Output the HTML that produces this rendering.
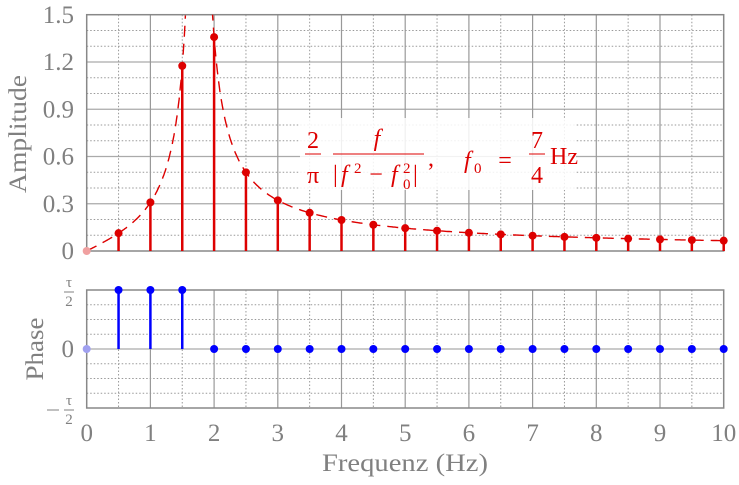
<!DOCTYPE html><html><head><meta charset="utf-8"><style>body{margin:0;background:#fff}svg{display:block}text{font-family:"Liberation Serif",serif;fill:#808080;font-size:16px}.r{fill:#d00}</style></head><body>
<svg id="s" width="739" height="485" xmlns="http://www.w3.org/2000/svg">
<defs><clipPath id="c"><rect x="86.7" y="14.7" width="637" height="236.3"/></clipPath></defs>
<g id="grid"></g>
<g id="curve" clip-path="url(#c)"></g>
<rect x="300" y="118" width="276" height="72" fill="#fff" opacity="0.85"/>
<g id="formula"></g>
<g id="stems"></g>
<g id="labels"></g>
</svg>
<script>
const NS="http://www.w3.org/2000/svg";
function el(p,t,a,txt){const e=document.createElementNS(NS,t);for(const k in a)e.setAttribute(k,a[k]);if(txt!=null)e.textContent=txt;(typeof p=="string"?document.getElementById(p):p).appendChild(e);return e;}
function T(p,x,y,s,size,anchor,cls,rot,ital,len){const k=size/16;const g=el(p,"g",{transform:`translate(${x},${y})`+(rot?` rotate(${rot})`:"")+` scale(${k})`});const a={x:0,y:0,"text-anchor":anchor||"start","font-size":16};if(cls)a["class"]=cls;if(ital)a["font-style"]="italic";if(len){a.textLength=len/k;a.lengthAdjust="spacingAndGlyphs";}el(g,"text",a,s);return g;}
const X=f=>86.7+63.7*f, YA=a=>251-157.5*a, YP=p=>349-59*p;
for(let i=1;i<15;i++){if(i%3)el("grid","line",{x1:86.7,x2:723.7,y1:YA(i*0.1),y2:YA(i*0.1),stroke:"#999","stroke-dasharray":"1.5,2","stroke-width":1});}
for(let i=1;i<5;i++)el("grid","line",{x1:86.7,x2:723.7,y1:YA(i*0.3),y2:YA(i*0.3),stroke:"#aaa","stroke-width":1.2});
for(let i=0;i<20;i++){const f=i*0.5;if(i%2)el("grid","line",{x1:X(f),x2:X(f),y1:14.7,y2:251,stroke:"#999","stroke-dasharray":"1.5,2"});else if(i)el("grid","line",{x1:X(f),x2:X(f),y1:14.7,y2:251,stroke:"#999","stroke-width":1.2});}
el("grid","rect",{x:86.7,y:14.7,width:637,height:236.3,fill:"none",stroke:"#888","stroke-width":1.5});
[-0.75,-0.5,-0.25,0.25,0.5,0.75].forEach(p=>el("grid","line",{x1:86.7,x2:723.7,y1:YP(p),y2:YP(p),stroke:"#999","stroke-dasharray":"1.5,2"}));
el("grid","line",{x1:86.7,x2:723.7,y1:349,y2:349,stroke:"#aaa","stroke-width":1.2});
for(let i=1;i<20;i++){const f=i*0.5;if(i%2)el("grid","line",{x1:X(f),x2:X(f),y1:290,y2:408,stroke:"#999","stroke-dasharray":"1.5,2"});else el("grid","line",{x1:X(f),x2:X(f),y1:290,y2:408,stroke:"#999","stroke-width":1.2});}
el("grid","rect",{x:86.7,y:290,width:637,height:118,fill:"none",stroke:"#888","stroke-width":1.5});
const A=f=>2/Math.PI*f/Math.abs(f*f-3.0625);
let d="";for(let f=0;f<=1.56;f+=0.01)d+=(d?"L":"M")+X(f).toFixed(1)+","+YA(A(f)).toFixed(1);
let d2="";for(let f=1.97;f<=10.001;f+=0.02)d2+=(d2?"L":"M")+X(f).toFixed(1)+","+YA(A(f)).toFixed(1);
el("curve","path",{d:d+d2,fill:"none",stroke:"#dd0000","stroke-width":1.4,"stroke-dasharray":"11,7"});
const F="formula",R="r",FS=24,SS=15;
T(F,313,148,"2",FS,"middle",R);T(F,313,183,"π",FS,"middle",R);
el(F,"line",{x1:305,y1:154,x2:321,y2:154,stroke:"#d00"});
T(F,377,146,"f",FS,"middle",R,0,1);
el(F,"line",{x1:333,y1:154,x2:424,y2:154,stroke:"#d00"});
T(F,333,182,"|",FS,"start",R);T(F,341,182,"f",FS,"start",R,0,1);T(F,354,173,"2",SS,"start",R);
T(F,376,182,"−",FS,"middle",R);T(F,391,182,"f",FS,"start",R,0,1);T(F,403,173,"2",SS,"start",R);T(F,403,189,"0",SS,"start",R);
T(F,413,182,"|",FS,"start",R);T(F,428,166,",",FS,"start",R);
T(F,464,168,"f",FS,"start",R,0,1);T(F,474,173,"0",SS,"start",R);T(F,505,168,"=",FS,"middle",R);
T(F,537,148,"7",FS,"middle",R);T(F,537,183,"4",FS,"middle",R);
el(F,"line",{x1:529,y1:154,x2:545,y2:154,stroke:"#d00"});
T(F,550,164,"Hz",FS,"start",R);
el("stems","circle",{cx:X(0),cy:YA(0),r:4,fill:"#f0a0a0"});
el("stems","circle",{cx:X(0),cy:YP(0),r:4,fill:"#a0a0f0"});
for(let i=1;i<=20;i++){const f=i*0.5,a=A(f);
el("stems","line",{x1:X(f),x2:X(f),y1:251,y2:YA(a),stroke:"#dd0000","stroke-width":2.5});
el("stems","circle",{cx:X(f),cy:YA(a),r:4,fill:"#dd0000"});
const p=f<1.75?1:0;
if(p)el("stems","line",{x1:X(f),x2:X(f),y1:349,y2:YP(1),stroke:"#0000ff","stroke-width":2.5});
el("stems","circle",{cx:X(f),cy:YP(p),r:4,fill:"#0000ff"});}
const L="labels",Z=25;
["0","0.3","0.6","0.9","1.2","1.5"].forEach((t,i)=>T(L,74,YA(i*0.3)+8,t,Z,"end"));
for(let i=0;i<=10;i++)T(L,X(i),441,String(i),Z,"middle");
T(L,405,471,"Frequenz (Hz)",Z,"middle",null,0,0,166);
T(L,26,134,"Amplitude",Z,"middle",null,-90,0,118);
T(L,43,349,"Phase",Z,"middle",null,-90,0,63);
T(L,74,357,"0",Z,"end");
T(L,69,287,"τ",15,"middle");T(L,69,306,"2",15,"middle");
el(L,"line",{x1:64,x2:74,y1:292,y2:292,stroke:"#808080"});
T(L,69,405,"τ",15,"middle");T(L,69,424,"2",15,"middle");
el(L,"line",{x1:64,x2:74,y1:410,y2:410,stroke:"#808080"});
el(L,"line",{x1:47,x2:59,y1:410,y2:410,stroke:"#808080"});
</script>
</body></html>
